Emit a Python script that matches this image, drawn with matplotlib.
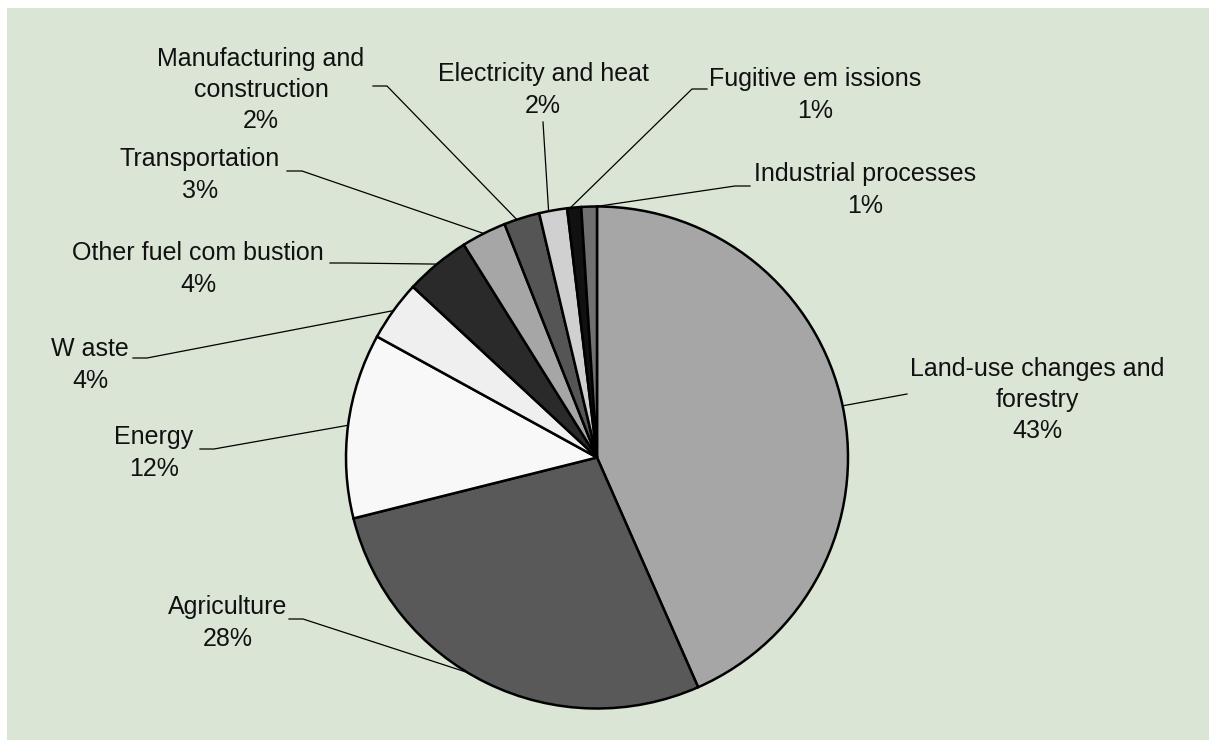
import numpy as np
import matplotlib
matplotlib.use("Agg")
import matplotlib.pyplot as plt
from matplotlib.patches import Rectangle

# shares of emissions, clockwise from the top
sectors = ["Land-use changes and\nforestry", "Agriculture", "Energy", "W aste",
           "Other fuel com bustion", "Transportation", "Manufacturing and\nconstruction",
           "Electricity and heat", "Fugitive em issions", "Industrial processes"]
shares = [43.4, 27.7, 11.9, 3.9, 4.2, 2.9, 2.3, 1.8, 0.9, 1.0]
greys = ["#a6a6a6", "#595959", "#f8f8f8", "#efefef", "#2a2a2a",
         "#a6a6a6", "#555555", "#d0d0d0", "#111111", "#707070"]

# label block centres and leader start / elbow, in pixels from top-left
label_pos = [(1037, 400), (228, 623), (154, 453), (90, 365), (198, 269),
             (200, 175), (261, 90), (543, 90), (815, 95), (865, 190)]
leader_start = [(907, 394), (289, 619), (200, 449), (133, 358), (330, 263),
                (287, 171), (373, 86), (543, 122), (707, 89), (750, 186)]
leader_elbow = [None, (303, 619), (214, 449), (147, 358), (348, 263),
                (302, 171), (387, 86), None, (692, 89), (735, 186)]
# where along each wedge's arc the leader touches (0 = first edge, 1 = last)
leader_frac = [0.5, 0.55, 0.5, 0.5, 0.5, 0.5, 0.36, 0.34, 0.22, 0.95]

W, H = 1209, 740
CX, CY, R = 597, 457.5, 251

plt.rcParams['font.family'] = ['Liberation Sans', 'DejaVu Sans']

fig = plt.figure(figsize=(W / 100, H / 100), dpi=100)
fig.patch.set_facecolor("white")
ax = fig.add_axes([0, 0, 1, 1])

# green panel
ax.add_patch(Rectangle((7, -5), W, H - 3, facecolor="#dbe5d5", edgecolor="none",
                       zorder=0, clip_on=False))

wedges, _ = ax.pie(shares, colors=greys, startangle=90, counterclock=False,
                   center=(CX, H - CY), radius=R, frame=True,
                   wedgeprops=dict(edgecolor="black", linewidth=1.8))
for w in wedges:
    w.set_zorder(2)

total = sum(shares)
for i, name in enumerate(sectors):
    pct = round(shares[i] / total * 100)
    lx, ly = label_pos[i]
    ax.text(lx, H - ly, f"{name}\n{pct}%", ha="center", va="center",
            multialignment="center", fontsize=18, color="#111111",
            linespacing=1.38, zorder=3)
    # leader line from label to the wedge edge
    w = wedges[i]
    # clockwise pie: theta2 is the first edge from the top, theta1 the last
    ang = np.deg2rad(w.theta2 + (w.theta1 - w.theta2) * leader_frac[i])
    ex = CX + R * np.cos(ang)
    ey = (H - CY) + R * np.sin(ang)
    pts = [leader_start[i]]
    if leader_elbow[i] is not None:
        pts.append(leader_elbow[i])
    xs = [p[0] for p in pts] + [ex]
    ys = [H - p[1] for p in pts] + [ey]
    ax.plot(xs, ys, color="black", linewidth=0.9, zorder=1)

ax.set_xlim(0, W)
ax.set_ylim(0, H)
ax.set_aspect("equal")
ax.axis("off")

fig.savefig("out.png", dpi=100, facecolor="white")
